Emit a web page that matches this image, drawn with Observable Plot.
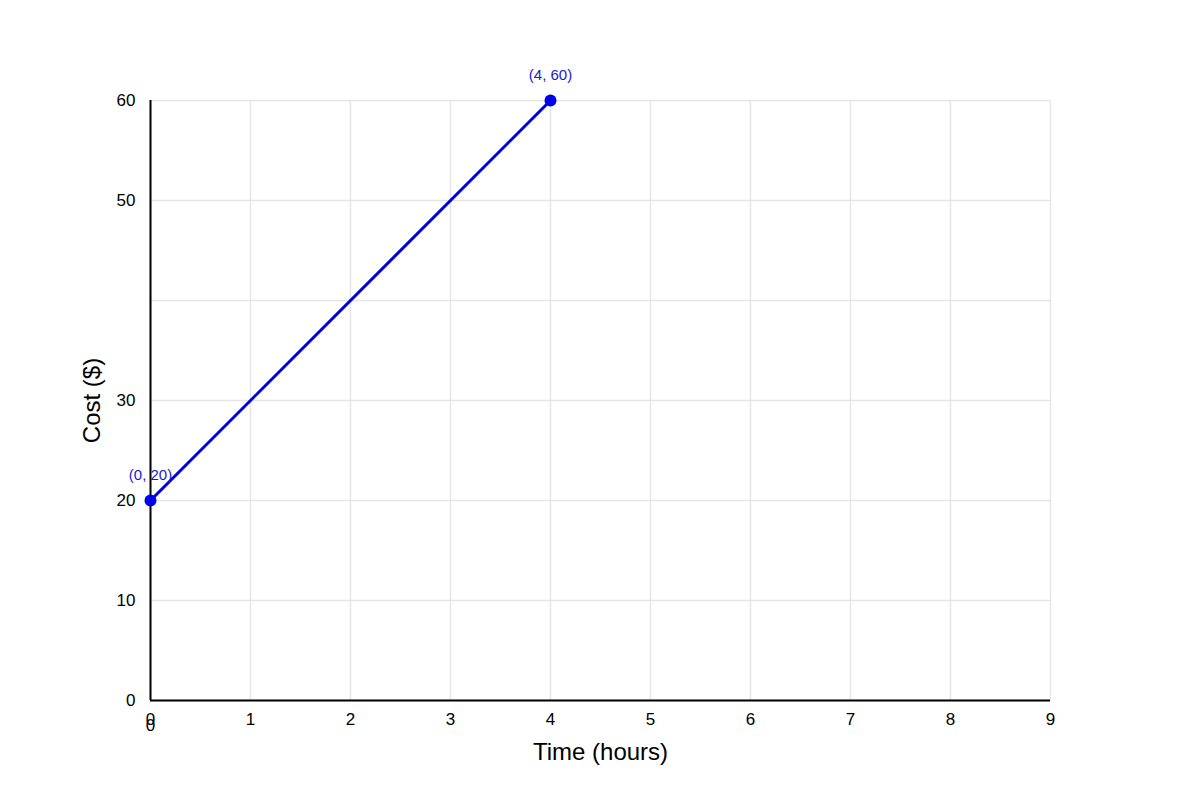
<!DOCTYPE html>
<html><head><meta charset="utf-8">
<script src="https://cdn.jsdelivr.net/npm/d3@7"></script>
<script src="https://cdn.jsdelivr.net/npm/@observablehq/plot@0.6"></script>
<style>
body{margin:0;background:#fff;font-family:"Liberation Sans",Arial,sans-serif;}
</style></head><body><div id="chart"></div>
<script>
const hours = [0, 4];
const costs = [20, 60];
const pointLabels = ["(0, 20)", "(4, 60)"];
const xTicks = [0,1,2,3,4,5,6,7,8,9];
const yGrid = [0,10,20,30,40,50,60];
const yTickLabels = [0,10,20,30,50,60];
const originLabel = ["0"];

const pts = hours.map((h,i)=>({x:h, y:costs[i], label:pointLabels[i]}));

const chart = Plot.plot({
  width: 1200, height: 800,
  marginLeft: 150, marginRight: 150, marginTop: 100, marginBottom: 100,
  style: {fontFamily: '"Liberation Sans", Arial, sans-serif', background: "#fff"},
  x: {domain: [0, 9]},
  y: {domain: [0, 60]},
  marks: [
    Plot.gridX(xTicks, {stroke: "#e6e6e6", strokeOpacity: 1, strokeWidth: 1.5}),
    Plot.gridY(yGrid, {stroke: "#e6e6e6", strokeOpacity: 1, strokeWidth: 1.5}),
    Plot.axisX(xTicks, {tickSize: 0, tickPadding: 12, fontSize: 17, fill: "#000", label: null}),
    Plot.axisY(yTickLabels, {tickSize: 0, tickPadding: 15, fontSize: 17, fill: "#000", label: null}),
    Plot.text(originLabel, {x: 0, y: 0, text: d => d, dy: 25, fontSize: 17, fill: "#000"}),
    Plot.ruleX([0], {stroke: "#000", strokeWidth: 2}),
    Plot.ruleY([0], {stroke: "#000", strokeWidth: 2}),
    Plot.line(pts, {x: "x", y: "y", stroke: "#0000dd", strokeWidth: 3}),
    Plot.dot(pts, {x: "x", y: "y", r: 6, fill: "#0000ee", stroke: "none"}),
    Plot.text(pts, {x: "x", y: "y", text: "label", dy: -25, fontSize: 15, fill: "#1a1acc"}),
    Plot.text(["Time (hours)"], {frameAnchor: "bottom", dy: 59, text: d => d, fontSize: 24, fill: "#000"}),
    Plot.text(["Cost ($)"], {frameAnchor: "left", textAnchor: "middle", dx: -58, rotate: -90, text: d => d, fontSize: 24, fill: "#000"})
  ]
});
document.getElementById("chart").appendChild(chart);
</script></body></html>
